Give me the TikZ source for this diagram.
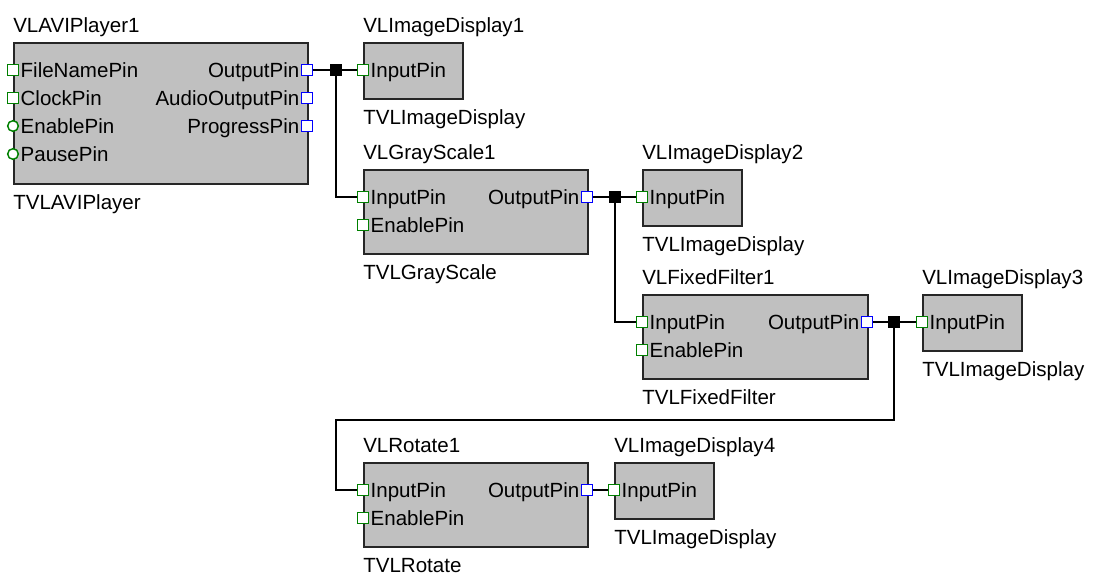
\documentclass[tikz,border=0pt]{standalone}
\usepackage{fontspec}
\setmainfont{Liberation Sans}
\usetikzlibrary{positioning}
\definecolor{boxgray}{HTML}{C0C0C0}
\definecolor{pingreen}{HTML}{008000}
\definecolor{pinblue}{HTML}{0000FF}

\begin{document}
\begin{tikzpicture}[
    x=0.75pt, y=-0.75pt,
    every node/.style={font=\fontsize{15.4}{18}\selectfont, inner sep=0pt},
    comp/.style={draw=black!85, line width=1.5pt, fill=boxgray, anchor=north west},
    boxsize/.style 2 args={minimum width=#1*0.75pt, minimum height=#2*0.75pt},
    txt/.style={text height=11pt, text depth=0pt},
    inpin/.style={draw=pingreen, fill=white, line width=1.1pt, minimum size=8pt},
    inpinc/.style={inpin, circle},
    outpin/.style={inpin, draw=pinblue},
    joint/.style={fill=black, minimum size=9pt},
    wire/.style={line width=1.1pt}
]
\fill[white] (0,0) rectangle (1093,576);
\useasboundingbox (0,0) rectangle (1093,576);
% ----- VLAVIPlayer1 -----
\node[comp, boxsize={294}{141}] (player) at (13,42) {};
\node[txt, above right=7pt and 0pt of player.north west] (playername) {VLAVIPlayer1};
\node[txt, below right=7.5pt and 0pt of player.south west] (playertype) {TVLAVIPlayer};
\node[inpin] (pfile) at (13,70) {};
\node[inpin] (pclock) at (13,98) {};
\node[inpinc] (penable) at (13,126) {};
\node[inpinc] (ppause) at (13,154) {};
\node[outpin] (pout) at (307,70) {};
\node[outpin] (paudio) at (307,98) {};
\node[outpin] (pprog) at (307,126) {};
\node[txt, right=1pt of pfile] (tfile) {FileNamePin};
\node[txt, right=1pt of pclock] (tclock) {ClockPin};
\node[txt, right=1pt of penable] (tpenable) {EnablePin};
\node[txt, right=1pt of ppause] (tpause) {PausePin};
\node[txt, left=1pt of pout] (tpout) {OutputPin};
\node[txt, left=1pt of paudio] (taudio) {AudioOutputPin};
\node[txt, left=1pt of pprog] (tprog) {ProgressPin};
% ----- VLImageDisplay1 -----
\node[comp, boxsize={99}{56}] (disp1) at (363,42) {};
\node[txt, above right=7pt and 0pt of disp1.north west] (disp1name) {VLImageDisplay1};
\node[txt, below right=7.5pt and 0pt of disp1.south west] (disp1type) {TVLImageDisplay};
\node[inpin] (d1in) at (363,70) {};
\node[txt, right=1pt of d1in] (td1in) {InputPin};
% ----- VLGrayScale1 -----
\node[comp, boxsize={224}{84}] (gray) at (363,169) {};
\node[txt, above right=7pt and 0pt of gray.north west] (grayname) {VLGrayScale1};
\node[txt, below right=7.5pt and 0pt of gray.south west] (graytype) {TVLGrayScale};
\node[inpin] (gin) at (363,197) {};
\node[inpin] (gen) at (363,225) {};
\node[outpin] (gout) at (587,197) {};
\node[txt, right=1pt of gin] (tgin) {InputPin};
\node[txt, right=1pt of gen] (tgen) {EnablePin};
\node[txt, left=1pt of gout] (tgout) {OutputPin};
% ----- VLImageDisplay2 -----
\node[comp, boxsize={99}{56}] (disp2) at (642,169) {};
\node[txt, above right=7pt and 0pt of disp2.north west] (disp2name) {VLImageDisplay2};
\node[txt, below right=7.5pt and 0pt of disp2.south west] (disp2type) {TVLImageDisplay};
\node[inpin] (d2in) at (642,197) {};
\node[txt, right=1pt of d2in] (td2in) {InputPin};
% ----- VLFixedFilter1 -----
\node[comp, boxsize={225}{84}] (filter) at (642,294) {};
\node[txt, above right=7pt and 0pt of filter.north west] (filtername) {VLFixedFilter1};
\node[txt, below right=7.5pt and 0pt of filter.south west] (filtertype) {TVLFixedFilter};
\node[inpin] (fin) at (642,322) {};
\node[inpin] (fen) at (642,350) {};
\node[outpin] (fout) at (867,322) {};
\node[txt, right=1pt of fin] (tfin) {InputPin};
\node[txt, right=1pt of fen] (tfen) {EnablePin};
\node[txt, left=1pt of fout] (tfout) {OutputPin};
% ----- VLImageDisplay3 -----
\node[comp, boxsize={99}{56}] (disp3) at (922,294) {};
\node[txt, above right=7pt and 0pt of disp3.north west] (disp3name) {VLImageDisplay3};
\node[txt, below right=7.5pt and 0pt of disp3.south west] (disp3type) {TVLImageDisplay};
\node[inpin] (d3in) at (922,322) {};
\node[txt, right=1pt of d3in] (td3in) {InputPin};
% ----- VLRotate1 -----
\node[comp, boxsize={224}{84}] (rot) at (363,462) {};
\node[txt, above right=7pt and 0pt of rot.north west] (rotname) {VLRotate1};
\node[txt, below right=7.5pt and 0pt of rot.south west] (rottype) {TVLRotate};
\node[inpin] (rin) at (363,490) {};
\node[inpin] (ren) at (363,518) {};
\node[outpin] (rout) at (587,490) {};
\node[txt, right=1pt of rin] (trin) {InputPin};
\node[txt, right=1pt of ren] (tren) {EnablePin};
\node[txt, left=1pt of rout] (trout) {OutputPin};
% ----- VLImageDisplay4 -----
\node[comp, boxsize={99}{56}] (disp4) at (614,462) {};
\node[txt, above right=7pt and 0pt of disp4.north west] (disp4name) {VLImageDisplay4};
\node[txt, below right=7.5pt and 0pt of disp4.south west] (disp4type) {TVLImageDisplay};
\node[inpin] (d4in) at (614,490) {};
\node[txt, right=1pt of d4in] (td4in) {InputPin};
% ----- junctions -----
\node[joint] (j1) at (336,70) {};
\node[joint] (j2) at (615,197) {};
\node[joint] (j3) at (894,322) {};
\coordinate (loop) at (336,420);
% wires
\draw[wire] (pout) -- (j1) -- (d1in);
\draw[wire] (j1) |- (gin);
\draw[wire] (gout) -- (j2) -- (d2in);
\draw[wire] (j2) |- (fin);
\draw[wire] (fout) -- (j3) -- (d3in);
\draw[wire] (j3) |- (loop) |- (rin);
\draw[wire] (rout) -- (d4in);
\end{tikzpicture}
\end{document}
